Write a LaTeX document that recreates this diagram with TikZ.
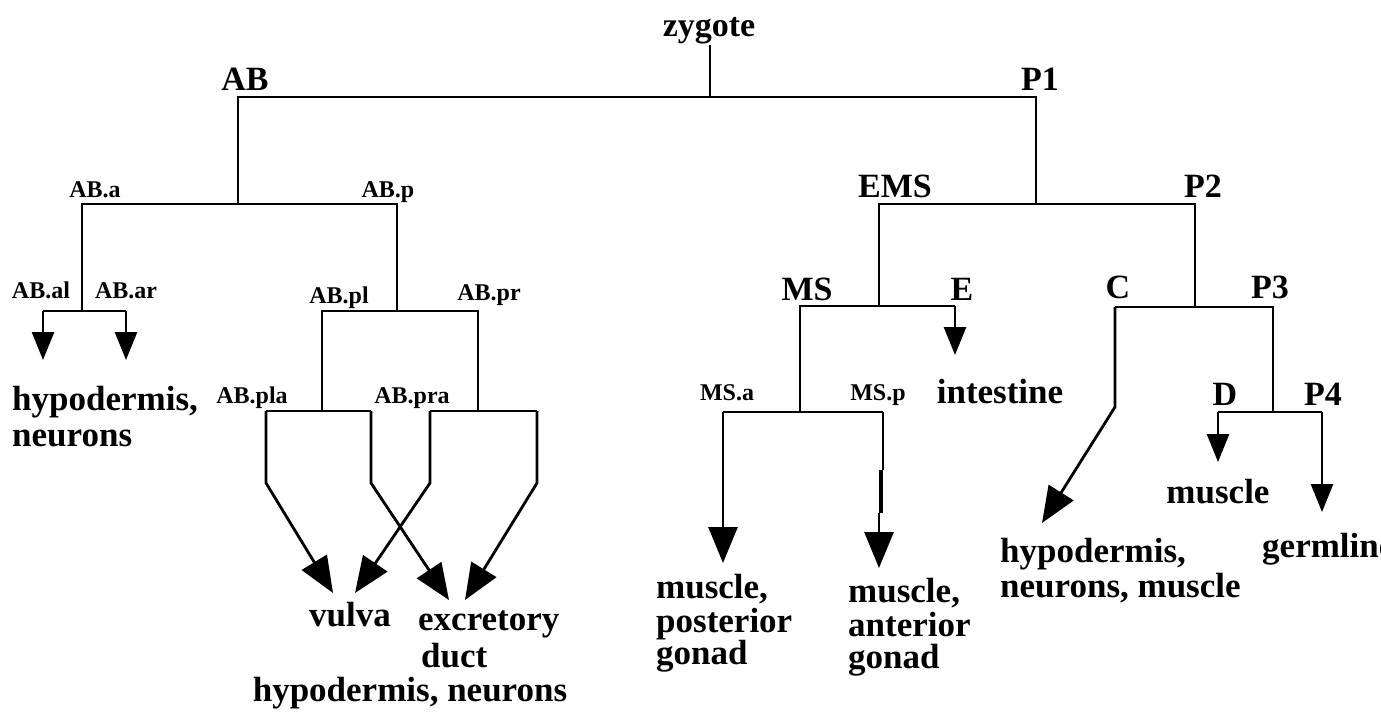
\documentclass[tikz,border=0pt]{standalone}
\usepackage{fontspec}
\setmainfont{Liberation Serif}
\usetikzlibrary{arrows.meta}
\begin{document}
\begin{tikzpicture}[x=1pt,y=-1pt,
  tree/.style={line width=2.8pt, line join=miter, draw=black},
  smallarr/.style={-{Triangle[length=28pt,width=22pt]}},
  bigarr/.style={-{Triangle[length=36pt,width=29pt]}},
  lab/.style={font=\bfseries\fontsize{34}{36}\selectfont, inner sep=0pt, anchor=base},
  slab/.style={font=\bfseries\fontsize{24}{26}\selectfont, inner sep=0pt, anchor=base},
  outw/.style={font=\bfseries\fontsize{35}{36}\selectfont, inner sep=0pt, anchor=base west},
  outc/.style={font=\bfseries\fontsize{35}{36}\selectfont, inner sep=0pt, anchor=base},
]
\useasboundingbox (0,0) rectangle (1381,713);

% ---- branch coordinates ----
\coordinate (zt) at (710,45);
\coordinate (r) at (710,97);
\coordinate (ABc) at (238,97);
\coordinate (P1c) at (1036,97);
\coordinate (ABs) at (238,204);
\coordinate (ABa) at (82,204);
\coordinate (ABp) at (397,204);
\coordinate (P1s) at (1036,204);
\coordinate (EMSc) at (879,204);
\coordinate (P2c) at (1195,204);
% AB.a
\coordinate (ABas) at (82,311);
\coordinate (ABal) at (43,311);
\coordinate (ABar) at (126,311);
\coordinate (ABalt) at (43,360);
\coordinate (ABart) at (126,360);
% AB.p
\coordinate (ABps) at (397,311);
\coordinate (ABpl) at (322,311);
\coordinate (ABpr) at (478,311);
\coordinate (ABpls) at (322,411);
\coordinate (ABpla) at (266,411);
\coordinate (ABplp) at (371,411);
\coordinate (ABprs) at (478,411);
\coordinate (ABpra) at (430,411);
\coordinate (ABprp) at (537,411);
\coordinate (b1) at (266,483);
\coordinate (b2) at (371,483);
\coordinate (b3) at (430,483);
\coordinate (b4) at (537,483);
\coordinate (t1) at (333,593);
\coordinate (t2) at (449,600);
\coordinate (t3) at (355,593);
\coordinate (t4) at (465,600);
% EMS
\coordinate (EMSs) at (879,306);
\coordinate (MSc) at (800,306);
\coordinate (Ec) at (955,306);
\coordinate (Et) at (955,355);
\coordinate (MSs) at (800,412);
\coordinate (MSa) at (723,412);
\coordinate (MSp) at (883,412);
\coordinate (MSat) at (723,563);
\coordinate (MSpm1) at (883,470);
\coordinate (MSpm2) at (881,470);
\coordinate (MSpm3) at (881,513);
\coordinate (MSpm4) at (879,513);
\coordinate (MSpt) at (879,568);
% P2
\coordinate (P2s) at (1195,307);
\coordinate (Cc) at (1115,307);
\coordinate (P3c) at (1273,307);
\coordinate (Cb) at (1115,407);
\coordinate (Ct) at (1042,523);
\coordinate (P3s) at (1273,412);
\coordinate (Dc) at (1218,412);
\coordinate (P4c) at (1322,412);
\coordinate (Dt) at (1218,462);
\coordinate (P4t) at (1322,512);

% ---- tree lines ----
\draw[tree] (zt) -- (r);
\draw[tree] (ABs) -- (ABc) -- (P1c) -- (P1s);
\draw[tree] (ABas) -- (ABa) -- (ABp) -- (ABps);
\draw[tree] (Cc) -- (P3c) -- (P3s);
\draw[tree] (EMSs) -- (EMSc) -- (P2c) -- (P2s);
\draw[tree] (ABpls) -- (ABpl) -- (ABpr) -- (ABprs);
\draw[tree] (MSs) -- (MSc) -- (Ec);
\draw[tree] (ABal) -- (ABar);
\draw[tree] (ABpla) -- (ABplp);
\draw[tree] (ABpra) -- (ABprp);
\draw[tree] (MSa) -- (MSp);
\draw[tree] (Dc) -- (P4c);

% ---- arrows ----
\draw[tree,smallarr] (ABal) -- (ABalt);
\draw[tree,smallarr] (ABar) -- (ABart);
\draw[tree,smallarr] (Ec) -- (Et);
\draw[tree,smallarr] (Dc) -- (Dt);
\draw[tree,smallarr] (P4c) -- (P4t);
\draw[tree,bigarr] (ABpla) -- (b1) -- (t1);
\draw[tree,bigarr] (ABplp) -- (b2) -- (t2);
\draw[tree,bigarr] (ABpra) -- (b3) -- (t3);
\draw[tree,bigarr] (ABprp) -- (b4) -- (t4);
\draw[tree,bigarr] (MSa) -- (MSat);
\draw[tree] (MSp) -- (MSpm1);
\draw[line width=4.5pt] (MSpm2) -- (MSpm3);
\draw[tree,bigarr] (MSpm4) -- (MSpt);
\draw[tree,bigarr] (Cc) -- (Cb) -- (Ct);

% ---- labels ----
\node[lab] (zyg) at (709,36) {zygote};
\node[lab] (lAB) at (245,90) {AB};
\node[lab] (lP1) at (1040,90) {P1};
\node[slab] (lABa) at (95,197) {AB.a};
\node[slab] (lABp) at (388,197) {AB.p};
\node[lab] (lEMS) at (895,197) {EMS};
\node[lab] (lP2) at (1203,197) {P2};
\node[slab] (lABal) at (41,298) {AB.al};
\node[slab] (lABar) at (126,298) {AB.ar};
\node[slab] (lABpl) at (339,303) {AB.pl};
\node[slab] (lABpr) at (489,300) {AB.pr};
\node[slab] (lABpla) at (252,403) {AB.pla};
\node[slab] (lABpra) at (412,403) {AB.pra};
\node[lab] (lMS) at (807,300) {MS};
\node[lab] (lE) at (962,300) {E};
\node[slab] (lMSa) at (727,400) {MS.a};
\node[slab] (lMSp) at (878,400) {MS.p};
\node[lab] (lC) at (1118,298) {C};
\node[lab] (lP3) at (1270,298) {P3};
\node[lab] (lD) at (1225,405) {D};
\node[lab] (lP4) at (1323,405) {P4};

% ---- fates ----
\node[outw] (f1a) at (12,410) {hypodermis,};
\node[outw] (f1b) at (12,446) {neurons};
\node[outc] (f2) at (350,626) {vulva};
\node[outw] (f3a) at (418,630) {excretory};
\node[outw] (f3b) at (421,667) {duct};
\node[outc] (f4) at (410,701) {hypodermis, neurons};
\node[outc] (f5) at (1000,403) {intestine};
\node[outw] (f6a) at (656,598) {muscle,};
\node[outw] (f6b) at (656,632) {posterior};
\node[outw] (f6c) at (656,664) {gonad};
\node[outw] (f7a) at (848,602) {muscle,};
\node[outw] (f7b) at (848,636) {anterior};
\node[outw] (f7c) at (848,668) {gonad};
\node[outw] (f8a) at (1000,562) {hypodermis,};
\node[outw] (f8b) at (1000,597) {neurons, muscle};
\node[outc] (f9) at (1218,503) {muscle};
\node[outw] (f10) at (1262,557) {germline};
\end{tikzpicture}
\end{document}
